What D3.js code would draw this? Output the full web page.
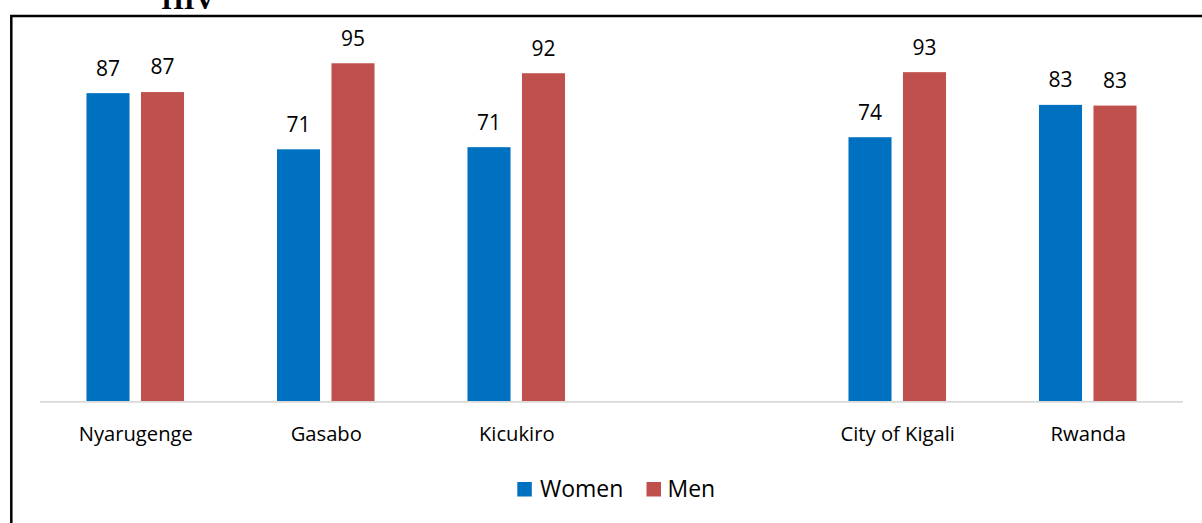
<!DOCTYPE html>
<html>
<head>
<meta charset="utf-8">
<script src="https://cdn.jsdelivr.net/npm/d3@7"></script>
<style>
  html, body { margin: 0; padding: 0; background: #fff; }
  svg { display: block; }
</style>
</head>
<body>
<svg id="chart" width="1202" height="523"></svg>
<script>
const categories = ["Nyarugenge", "Gasabo", "Kicukiro", "", "City of Kigali", "Rwanda"];
const series = ["Women", "Men"];
const women = [86.6, 70.8, 71.4, null, 74.2, 83.3];
const men = [86.9, 95.0, 92.2, null, 92.5, 83.1];
const colors = ["#0070C0", "#C0504D"];
const titleText = "HIV";

const svg = d3.select("#chart");
const W = 1202, H = 523;
const plot = { left: 40, right: 1183, top: 45.5, bottom: 401 };

const x0 = d3.scaleBand().domain(d3.range(categories.length))
  .range([plot.left, plot.right]).paddingInner(0.488).paddingOuter(0.244);
const x1 = d3.scaleBand().domain(series).range([0, x0.bandwidth()]).paddingInner(0.21);
const y = d3.scaleLinear().domain([0, 100]).range([plot.bottom, plot.top]);

const valuesBySeries = [women, men];
const font = "'Open Sans', 'Noto Sans', sans-serif";

// frame
svg.append("path")
  .attr("d", `M11.3,${H} L11.3,16 L${W},16`)
  .attr("fill", "none").attr("stroke", "#000").attr("stroke-width", 2.5);

// title (cut off at top)
svg.append("text").attr("x", 161.5).attr("y", 9)
  .attr("font-family", "'Liberation Serif', 'Times New Roman', serif")
  .attr("font-weight", "bold").attr("font-size", 28.5).attr("fill", "#000")
  .text(titleText);

// bars
series.forEach((s, si) => {
  const g = svg.append("g");
  const data = categories.map((c, i) => ({ i, v: valuesBySeries[si][i] })).filter(d => d.v != null);
  g.selectAll("rect").data(data).join("rect")
    .attr("x", d => x0(d.i) + x1(s))
    .attr("width", x1.bandwidth())
    .attr("y", d => y(d.v))
    .attr("height", d => y(0) - y(d.v))
    .attr("fill", colors[si]);
  g.selectAll("text").data(data).join("text")
    .attr("x", d => x0(d.i) + x1(s) + x1.bandwidth() / 2)
    .attr("y", d => y(d.v) - 17.6)
    .attr("text-anchor", "middle")
    .attr("font-family", font).attr("font-size", 21).attr("fill", "#000")
    .text(d => d3.format(".0f")(d.v));
});

// x axis
const xAxis = d3.axisBottom(d3.scalePoint().domain(categories.map((c, i) => i))
  .range([x0(0) + x0.bandwidth() / 2, x0(categories.length - 1) + x0.bandwidth() / 2]))
  .tickSize(0).tickPadding(0).tickFormat(i => categories[i]);
const ax = svg.append("g").attr("transform", `translate(0,${plot.bottom})`).call(xAxis);
ax.select(".domain").remove();
ax.selectAll("text").attr("dy", null).attr("y", 39.7)
  .attr("font-family", font).attr("font-size", 20.2).attr("fill", "#000");
svg.append("line").attr("x1", plot.left).attr("x2", plot.right)
  .attr("y1", plot.bottom + 0.8).attr("y2", plot.bottom + 0.8)
  .attr("stroke", "#d9d9d9").attr("stroke-width", 1.8);

// legend
const legendItems = [
  { name: series[0], color: colors[0], sx: 517.3, tx: 540 },
  { name: series[1], color: colors[1], sx: 646.5, tx: 667.5 }
];
const lg = svg.append("g");
legendItems.forEach(it => {
  lg.append("rect").attr("x", it.sx).attr("y", 482).attr("width", 14.5).attr("height", 14.5).attr("fill", it.color);
  lg.append("text").attr("x", it.tx).attr("y", 496.5)
    .attr("font-family", font).attr("font-size", 23).attr("fill", "#000").text(it.name);
});
</script>
</body>
</html>
